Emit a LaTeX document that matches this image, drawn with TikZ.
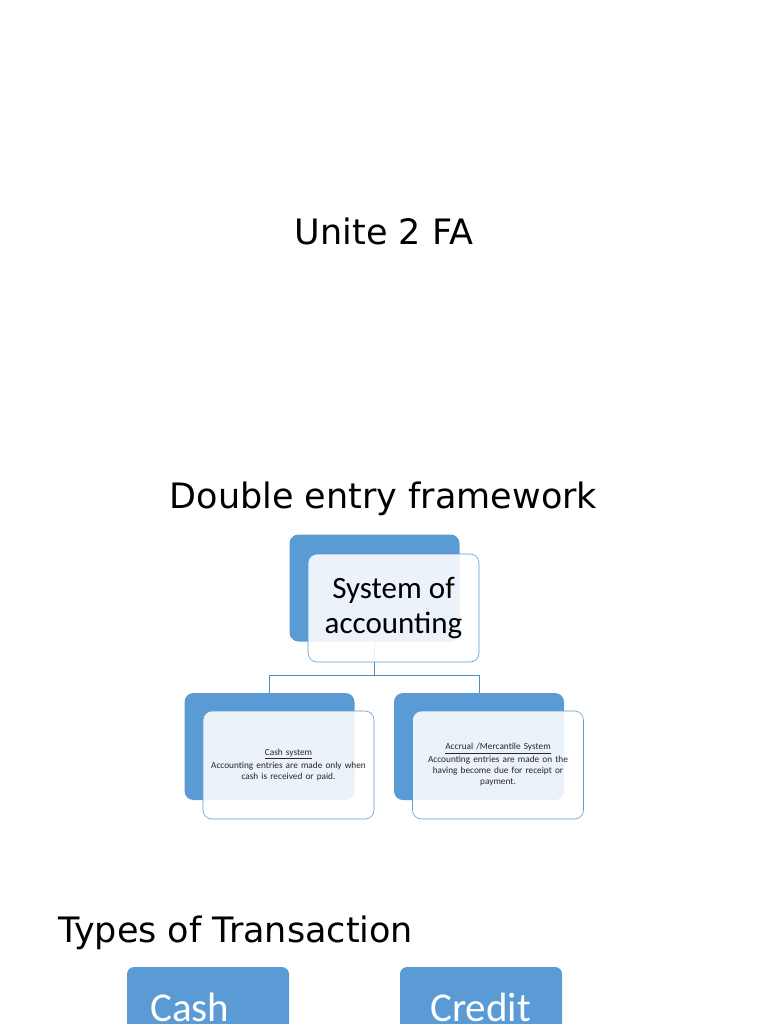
\documentclass[tikz,border=0pt]{standalone}
\usepackage{fontspec}
\setmainfont{DejaVu Sans}
\newfontfamily\boxfont{Carlito}
\usetikzlibrary{positioning}
\definecolor{accblue}{HTML}{5B9BD5}

\begin{document}
\begin{tikzpicture}[
  x=1pt, y=-1pt,
  title/.style={anchor=base, inner sep=0pt, font=\fontsize{35}{40}\selectfont},
  back/.style={rectangle, rounded corners=9pt, fill=accblue, inner sep=0pt,
               minimum width=170pt, minimum height=107pt},
  front/.style={rectangle, rounded corners=9pt, draw=accblue, line width=0.6pt,
                fill=white, fill opacity=0.88, text opacity=1, inner sep=2pt,
                minimum width=171pt, minimum height=108pt, align=center},
  big/.style={front, font=\boxfont\fontsize{31}{35}\selectfont},
  small/.style={front, text=black!85, font=\boxfont\fontsize{9.3}{11}\selectfont, text width=162pt},
  kind/.style={rectangle, rounded corners=7pt, fill=accblue, inner sep=0pt,
               minimum width=162pt, minimum height=80pt},
  link/.style={draw=accblue!90!black, line width=0.7pt}
]
\useasboundingbox (0,0) rectangle (768,1024);

\node[title] (unit) at (384,244) {Unite 2 FA};
\node[title] (frame) at (383.5,508) {Double entry framework};
\node[title, anchor=base west] (types) at (58,942) {Types of Transaction};

% back boxes
\node[back] (sysback)  at (374.5,588) {};
\node[back] (cashback) at (269.5,746.5) {};
\node[back] (accback)  at (479,746.5) {};

% connectors
\draw[link] (sysback.south) -- ++(0,34) coordinate (bus)
  -| (cashback.north);
\draw[link] (bus) -| (accback.north);

% front boxes
\node[big] (sys) at (393.5,608) {System of\\accounting};
\node[small] (cash) at (288.5,765)
  {\underline{Cash system}\\[2pt]Accounting entries are made only when\\cash is received or paid.};
\node[small] (acc) at (498,765)
  {\underline{Accrual /Mercantile System}\\[2pt]Accounting entries are made on the\\having become due for receipt or\\payment.};

% types of transaction
\node[kind] (cashbox) at (208,1007) {};
\node[kind] (creditbox) at (481,1007) {};
\node[anchor=base west, inner sep=0pt, text=white, font=\boxfont\fontsize{41}{45}\selectfont]
  (cashlbl) at (150,1021) {Cash};
\node[anchor=base west, inner sep=0pt, text=white, font=\boxfont\fontsize{41}{45}\selectfont]
  (creditlbl) at (430,1021) {Credit};
\end{tikzpicture}
\end{document}
